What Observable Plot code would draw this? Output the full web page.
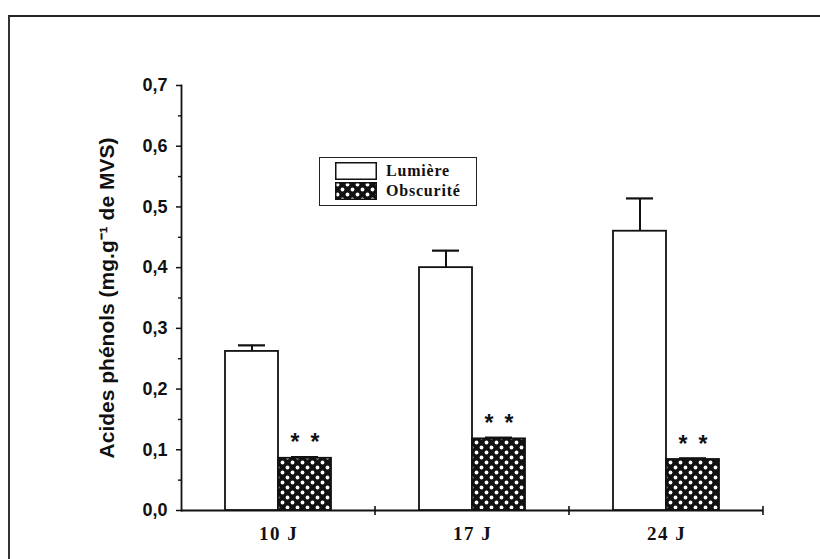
<!DOCTYPE html>
<html>
<head>
<meta charset="utf-8">
<script src="https://cdn.jsdelivr.net/npm/d3@7"></script>
<script src="https://cdn.jsdelivr.net/npm/@observablehq/plot@0.6"></script>
<style>
  html, body { margin: 0; padding: 0; background: #fff; }
  #wrap { position: relative; width: 820px; height: 559px; overflow: hidden; background: #fff; }
  #border { position: absolute; left: 8px; top: 15px; width: 830px; height: 560px;
            border-top: 2px solid #222; border-left: 2px solid #333; pointer-events: none; }
  #chart { position: absolute; left: 0; top: 0; }
  #legend { position: absolute; left: 319px; top: 157px; width: 158px; height: 49px;
            border: 1.5px solid #222; background: #fff; box-sizing: border-box;
            font: bold 16px "Liberation Serif", serif; letter-spacing: 0.8px; color: #111; }
  #legend .row { position: absolute; left: 15px; height: 18px; display: flex; align-items: center; }
  #legend svg { display: block; }
  #legend span { margin-left: 9px; line-height: 18px; }
  [aria-label="y-axis label"] text { font-size: 21px; }
  [aria-label="fx-axis tick label"] text { letter-spacing: 1.5px; }
</style>
</head>
<body>
<div id="wrap">
  <div id="chart"></div>
  <div id="legend"></div>
  <div id="border"></div>
</div>
<script>
// ---- data ----
const groups = ["10 J", "17 J", "24 J"];
const series = ["Lumière", "Obscurité"];
const lumiere = [0.262, 0.400, 0.460];
const lumiereErr = [0.010, 0.028, 0.054];
const obscurite = [0.086, 0.118, 0.084];
const obscuriteErr = [0.002, 0.002, 0.002];
const signif = ["**", "**", "**"];
const yTicks = [0, 0.1, 0.2, 0.3, 0.4, 0.5, 0.6, 0.7];
const yMinorTicks = [0.05, 0.15, 0.25, 0.35, 0.45, 0.55, 0.65];
const yLabel = "Acides phénols (mg.g⁻¹ de MVS)";

// table built from the arrays
const rows = groups.flatMap((g, i) => [
  {group: g, series: series[0], value: lumiere[i], err: lumiereErr[i], sig: ""},
  {group: g, series: series[1], value: obscurite[i], err: obscuriteErr[i], sig: signif[i]}
]);

const fmt = d => d.toFixed(1).replace(".", ",");
const ns = "http://www.w3.org/2000/svg";

// small tick at the right end of each group on the x axis
function groupBoundaryTicks(index, scales, values, dims) {
  const g = document.createElementNS(ns, "g");
  const x = dims.width - dims.marginRight;
  const y = dims.height - dims.marginBottom;
  const l = document.createElementNS(ns, "line");
  l.setAttribute("x1", x); l.setAttribute("x2", x);
  l.setAttribute("y1", y - 4); l.setAttribute("y2", y + 5);
  l.setAttribute("stroke", "#111"); l.setAttribute("stroke-width", 1.6);
  g.append(l);
  return g;
}

const chart = Plot.plot({
  width: 820,
  height: 559,
  marginLeft: 181,
  marginRight: 57,
  marginTop: 85,
  marginBottom: 49,
  style: {fontFamily: "Liberation Sans, Arial, sans-serif", fontSize: "18px", color: "#111", background: "transparent", overflow: "visible"},
  fx: {domain: groups, padding: 0},
  x: {domain: series, paddingInner: 0, paddingOuter: 0.83, axis: null},
  y: {domain: [0, 0.7]},
  marks: [
    Plot.ruleY([0], {stroke: "#111", strokeWidth: 1.8}),
    Plot.frame({anchor: "left", facetAnchor: "left", stroke: "#111", strokeWidth: 1.8}),
    groupBoundaryTicks,
    Plot.axisY(yMinorTicks, {tickSize: 3, tickFormat: () => "", label: null, stroke: "#111", strokeWidth: 1.4}),
    Plot.axisY(yTicks, {tickSize: 5, tickPadding: 9, tickFormat: fmt, fontWeight: "bold", fontSize: 18,
      label: yLabel, labelAnchor: "center", labelOffset: 82, labelArrow: "none", stroke: "#111", strokeWidth: 1.5}),
    Plot.axisFx({anchor: "bottom", tickSize: 0, tickPadding: 16, label: null,
      fontFamily: "Liberation Serif, serif", fontWeight: "bold", fontSize: 19}),
    Plot.barY(rows.filter(d => d.series === series[0]),
      {fx: "group", x: "series", y: "value", fill: "white", stroke: "#111", strokeWidth: 1.8}),
    Plot.barY(rows.filter(d => d.series === series[1]),
      {fx: "group", x: "series", y: "value", fill: "url(#dots)", stroke: "#111", strokeWidth: 1.8}),
    Plot.ruleX(rows, {fx: "group", x: "series", y1: "value", y2: d => d.value + d.err, stroke: "#111", strokeWidth: 2}),
    Plot.tickY(rows, {fx: "group", x: "series", y: d => d.value + d.err, insetLeft: 13, insetRight: 13, stroke: "#111", strokeWidth: 2.2}),
    Plot.text(rows.filter(d => d.sig), {fx: "group", x: "series", y: d => d.value + d.err,
      text: d => d.sig.split("").join("\u00a0\u2009"), dy: -14, fontSize: 23, fontWeight: "bold", fill: "#111"})
  ]
});

const patternSvg = `<pattern id="dots" patternUnits="userSpaceOnUse" width="10" height="10">
  <rect width="10" height="10" fill="#111"/>
  <circle cx="2.5" cy="2.5" r="1.9" fill="#fff"/>
  <circle cx="7.5" cy="7.5" r="1.9" fill="#fff"/>
</pattern>`;
const defs = document.createElementNS(ns, "defs");
defs.innerHTML = patternSvg;
chart.insertBefore(defs, chart.firstChild);
document.getElementById("chart").append(chart);

// legend (inside the plot area, as in the reference)
const legend = document.getElementById("legend");
const swatchFills = ["#fff", "url(#dots)"];
series.forEach((s, i) => {
  const row = document.createElement("div");
  row.className = "row";
  row.style.top = (4 + i * 20) + "px";
  row.innerHTML = `<svg width="42" height="18"><rect x="0.75" y="0.75" width="40.5" height="16.5" fill="${swatchFills[i]}" stroke="#111" stroke-width="1.5"/></svg><span>${s}</span>`;
  legend.append(row);
});
</script>
</body>
</html>
